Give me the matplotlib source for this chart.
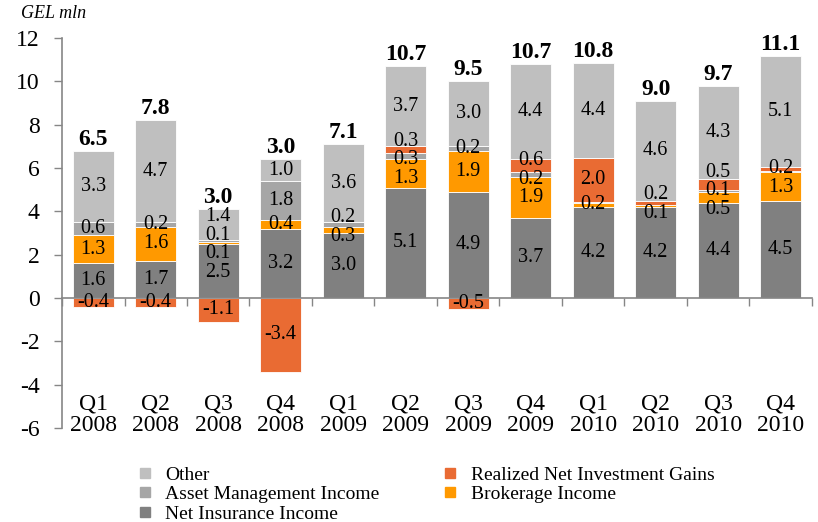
"""
Stacked quarterly income chart (GEL mln)
"""

import numpy as np
import matplotlib.pyplot as plt
from matplotlib.lines import Line2D

# Data
quarters = ['Q1', 'Q2', 'Q3', 'Q4'] * 3
years = ['2008'] * 4 + ['2009'] * 4 + ['2010'] * 4

net_insurance = [1.6, 1.7, 2.5, 3.2, 3.0, 5.1, 4.9, 3.7, 4.2, 4.2, 4.4, 4.5]
brokerage = [1.3, 1.6, 0.1, 0.4, 0.3, 1.3, 1.9, 1.9, 0.2, 0.1, 0.5, 1.3]
asset_mgmt = [0.6, 0.2, 0.1, 1.8, 0.2, 0.3, 0.2, 0.2, 0.05, 0.0, 0.1, 0.05]
realized_gains = [-0.4, -0.4, -1.1, -3.4, 0.0, 0.3, -0.5, 0.6, 2.0, 0.2, 0.5, 0.2]
other = [3.3, 4.7, 1.4, 1.0, 3.6, 3.7, 3.0, 4.4, 4.4, 4.6, 4.3, 5.1]
totals = [6.5, 7.8, 3.0, 3.0, 7.1, 10.7, 9.5, 10.7, 10.8, 9.0, 9.7, 11.1]

# Stack order bottom -> top
series = [
    ('Net Insurance Income', net_insurance, '#808080'),
    ('Brokerage Income', brokerage, '#FF9900'),
    ('Asset Management Income', asset_mgmt, '#A6A6A6'),
    ('Realized Net Investment Gains', realized_gains, '#E96B33'),
    ('Other', other, '#BFBFBF'),
]

plt.rcParams['font.family'] = ['Liberation Serif', 'DejaVu Serif']
plt.rcParams['axes.unicode_minus'] = False


def spread_labels(ys, gap, n_iter=200):
    """Push label centres apart so neighbours are at least `gap` apart."""
    ys = list(ys)
    for _ in range(n_iter):
        moved = False
        for i in range(1, len(ys)):
            d = ys[i] - ys[i - 1]
            if d < gap - 1e-6:
                shift = (gap - d) / 2
                ys[i - 1] -= shift
                ys[i] += shift
                moved = True
        if not moved:
            break
    return ys


fig = plt.figure(figsize=(8.18, 5.22), dpi=100)
ax = fig.add_axes([62 / 818, 1 - 428 / 522, (812 - 62) / 818, (428 - 38) / 522])

x = np.arange(len(quarters))
width = 0.65
pos_base = np.zeros(len(x))
neg_base = np.zeros(len(x))
labels = {xi: [] for xi in x}

for name, vals, color in series:
    vals = np.array(vals, dtype=float)
    bottoms = np.where(vals >= 0, pos_base, neg_base)
    ax.bar(x, vals, width, bottom=bottoms, color=color,
           edgecolor='white', linewidth=0.6, label=name, zorder=2)
    for xi, v, b in zip(x, vals, bottoms):
        if abs(v) >= 0.1:
            labels[xi].append((b + v / 2, f'{v:.1f}'))
    pos_base = pos_base + np.where(vals > 0, vals, 0)
    neg_base = neg_base + np.where(vals < 0, vals, 0)

# Data labels, roughly centred in each segment
for xi, items in labels.items():
    items.sort()
    ys = spread_labels([y for y, _ in items], gap=0.86)
    for y, (_, txt) in zip(ys, items):
        ax.text(xi, y, txt, ha='center', va='center',
                fontsize=14.5, color='black', zorder=4)

# Total labels above each bar
for xi, top, t in zip(x, pos_base, totals):
    ax.text(xi, top + 0.05, f'{t:.1f}', ha='center', va='bottom',
            fontsize=17, fontweight='bold', zorder=4)

# Axes styling
ax.set_xlim(-0.5, len(x) - 0.5)
ax.set_ylim(-6, 12)
ax.set_yticks(np.arange(-6, 13, 2))
ax.tick_params(axis='y', labelsize=17, direction='out', length=6,
               width=1, color='#868686', pad=10)
ax.set_xticks(np.arange(-0.5, len(x), 1))
ax.set_xticklabels([])
ax.tick_params(axis='x', direction='out', length=6, width=1, color='#868686')

ax.spines['top'].set_visible(False)
ax.spines['right'].set_visible(False)
ax.spines['left'].set_color('#868686')
ax.spines['bottom'].set_color('#868686')
ax.spines['left'].set_linewidth(1.2)
ax.spines['bottom'].set_linewidth(1.2)
ax.spines['bottom'].set_position(('data', 0))
ax.spines['bottom'].set_zorder(3)

# Category labels near the bottom of the plot area
for xi, q, yr in zip(x, quarters, years):
    ax.text(xi, -5.4, f'{q}\n{yr}', ha='center', va='center',
            fontsize=17, linespacing=1.05)

fig.text(21 / 818, 1 - 14 / 522, 'GEL mln', fontsize=13, style='italic',
         va='center', ha='left')

# Legend, row-major order across two columns
colors = {name: color for name, _, color in series}
order = ['Other', 'Asset Management Income', 'Net Insurance Income',
         'Realized Net Investment Gains', 'Brokerage Income']
handles = [Line2D([], [], linestyle='none', marker='s', markersize=7,
                  markerfacecolor=colors[n], markeredgecolor=colors[n])
           for n in order]
fig.legend(handles, order, loc='upper left', ncol=2,
           bbox_to_anchor=(138 / 818, 1 - 466 / 522), frameon=False,
           fontsize=14, handlelength=0.7, handletextpad=0.7,
           labelspacing=0.1, columnspacing=3.3, borderpad=0,
           borderaxespad=0)

fig.savefig('out.png', dpi=100)
